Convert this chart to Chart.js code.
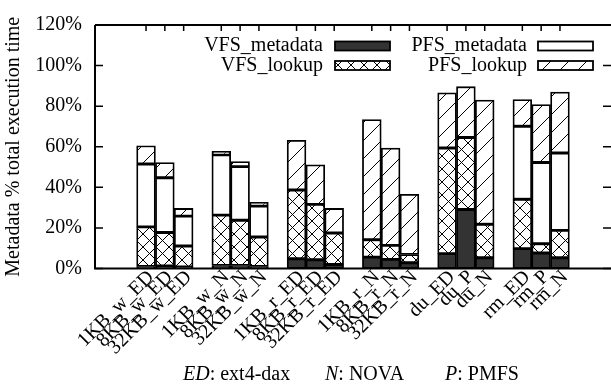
<!DOCTYPE html>
<html>
<head>
<meta charset="utf-8">
<script src="https://cdn.jsdelivr.net/npm/chart.js@4/dist/chart.umd.min.js"></script>
<style>
  html, body { margin: 0; padding: 0; background: #fff; }
  canvas { display: block; }
</style>
</head>
<body>
<canvas id="metaChart" width="611" height="387"></canvas>
<script>
const labels = ["1KB_w_ED", "8KB_w_ED", "32KB_w_ED", "1KB_w_N", "8KB_w_N", "32KB_w_N",
    "1KB_r_ED", "8KB_r_ED", "32KB_r_ED", "1KB_r_N", "8KB_r_N", "32KB_r_N",
    "du_ED", "du_P", "du_N", "rm_ED", "rm_P", "rm_N"];

const vfsMeta   = [1.0, 1.2, 0.8, 1.5, 1.5, 1.0, 4.8, 4.3, 2.0, 5.6, 4.5, 2.8, 7.3, 29.1, 5.3, 9.8, 7.6, 5.3];
const vfsLookup = [19.5, 16.5, 10.3, 24.8, 22.3, 14.5, 33.9, 27.3, 15.5, 8.6, 6.9, 4.1, 52.1, 35.5, 16.5, 24.3, 4.6, 13.5];
const pfsMeta   = [31.0, 27.0, 14.7, 29.7, 26.4, 15.3, 0, 0, 0, 0, 0, 0, 0, 0, 0, 36.0, 40.0, 38.1];
const pfsLookup = [9.0, 7.5, 3.8, 1.7, 2.5, 1.8, 24.5, 19.5, 12.1, 59.2, 48.0, 29.7, 27.2, 25.0, 61.2, 13.2, 28.6, 30.1];

const yTicks = [0, 20, 40, 60, 80, 100, 120];

const FONT = "Liberation Serif";

// three bars per group, one empty slot between groups
const slots = labels.map((_, i) => Math.floor(i / 3) * 4 + (i % 3));

function makePattern(size, cross) {
    const c = document.createElement("canvas");
    c.width = size; c.height = size;
    const g = c.getContext("2d");
    g.fillStyle = "#fff";
    g.fillRect(0, 0, size, size);
    g.strokeStyle = "#000";
    g.lineWidth = 1;
    g.beginPath();
    g.moveTo(0, size); g.lineTo(size, 0);
    if (cross) { g.moveTo(0, 0); g.lineTo(size, size); }
    g.stroke();
    return g.createPattern(c, "repeat");
}

document.addEventListener("DOMContentLoaded", function () {
    const ctx = document.getElementById("metaChart")?.getContext("2d");
    if (!ctx) return console.error("Canvas not found!");

    const crossFill = makePattern(13, true);
    const diagFill = makePattern(18, false);

    const series = [
        { label: "VFS_metadata", values: vfsMeta, fill: "#333333" },
        { label: "VFS_lookup", values: vfsLookup, fill: crossFill },
        { label: "PFS_metadata", values: pfsMeta, fill: "#ffffff" },
        { label: "PFS_lookup", values: pfsLookup, fill: diagFill }
    ];

    const chartData = {
        datasets: series.map(s => ({
            label: s.label,
            data: s.values.map((v, i) => ({ x: slots[i], y: v })),
            backgroundColor: s.fill,
            borderColor: "#000",
            borderWidth: 1.8,
            borderSkipped: false,
            barPercentage: 1,
            categoryPercentage: 1
        }))
    };

    const framePlugin = {
        id: "frame",
        afterDatasetsDraw(chart) {
            const { ctx, chartArea: a, scales } = chart;
            ctx.save();
            ctx.strokeStyle = "#000";
            ctx.lineWidth = 2;
            ctx.beginPath();
            ctx.moveTo(a.left, a.top); ctx.lineTo(a.right, a.top);
            ctx.moveTo(a.left, a.top); ctx.lineTo(a.left, a.bottom);
            ctx.moveTo(a.left - 1, a.bottom); ctx.lineTo(a.right, a.bottom);
            ctx.stroke();

            ctx.lineWidth = 1.5;
            ctx.beginPath();
            yTicks.forEach(v => {
                const y = scales.y.getPixelForValue(v);
                ctx.moveTo(a.left, y); ctx.lineTo(a.left + 8, y);
                ctx.moveTo(a.right, y); ctx.lineTo(a.right - 8, y);
            });
            slots.forEach(s => {
                const x = scales.x.getPixelForValue(s);
                ctx.moveTo(x, a.top); ctx.lineTo(x, a.top + 6);
            });
            ctx.stroke();
            ctx.restore();
        },
        afterDraw(chart) {
            const { ctx } = chart;
            ctx.save();
            ctx.fillStyle = "#000";
            ctx.textBaseline = "middle";
            ctx.font = "20px '" + FONT + "'";

            // legend, text before the sample box
            const cols = [{ textRight: 323, box: 335 }, { textRight: 527, box: 538 }];
            const rows = [46, 65.5];
            const order = [[0, 0, 0], [2, 1, 0], [1, 0, 1], [3, 1, 1]];
            order.forEach(([di, c, r]) => {
                const ds = chart.data.datasets[di];
                const y = rows[r];
                ctx.textAlign = "right";
                ctx.fillText(ds.label, cols[c].textRight, y);
                ctx.fillStyle = ds.backgroundColor;
                ctx.fillRect(cols[c].box, y - 4.5, 55, 9);
                ctx.strokeStyle = "#000";
                ctx.lineWidth = 1.8;
                ctx.strokeRect(cols[c].box, y - 4.5, 55, 9);
                ctx.fillStyle = "#000";
            });

            // caption below the axis
            ctx.textAlign = "left";
            const parts = [[183, "ED", ": ext4-dax"], [325, "N", ": NOVA"], [445, "P", ": PMFS"]];
            parts.forEach(([x, it, rest]) => {
                ctx.font = "italic 20px '" + FONT + "'";
                ctx.fillText(it, x, 375);
                const w = ctx.measureText(it).width;
                ctx.font = "20px '" + FONT + "'";
                ctx.fillText(rest, x + w, 375);
            });
            ctx.restore();
        }
    };

    const chartOptions = {
        responsive: false,
        animation: false,
        devicePixelRatio: 1,
        layout: { padding: { top: 25, left: 0, right: 0, bottom: 0 } },
        plugins: {
            legend: { display: false },
            tooltip: { enabled: false }
        },
        scales: {
            x: {
                type: "linear",
                stacked: true,
                min: -1.95,
                max: 23.95,
                grid: { display: false, drawTicks: false },
                border: { display: false },
                afterBuildTicks: scale => { scale.ticks = slots.map(v => ({ value: v })); },
                afterFit: scale => { scale.height = 118.5; },
                ticks: {
                    autoSkip: false,
                    minRotation: 45,
                    maxRotation: 45,
                    padding: -3,
                    labelOffset: 5,
                    color: "#000",
                    font: { family: FONT, size: 20 },
                    callback: (v, i) => labels[i]
                }
            },
            y: {
                stacked: true,
                min: 0,
                max: 120,
                grid: { display: false, drawTicks: false },
                border: { display: false },
                afterFit: scale => { scale.width = 95; },
                ticks: {
                    stepSize: 20,
                    padding: 13,
                    color: "#000",
                    font: { family: FONT, size: 20 },
                    callback: v => v + "%"
                },
                title: {
                    display: true,
                    text: "Metadata % total execution time",
                    color: "#000",
                    padding: { top: 2, bottom: 0 },
                    font: { family: FONT, size: 20 }
                }
            }
        }
    };

    new Chart(ctx, {
        type: "bar",
        data: chartData,
        options: chartOptions,
        plugins: [framePlugin]
    });
});
</script>
</body>
</html>
